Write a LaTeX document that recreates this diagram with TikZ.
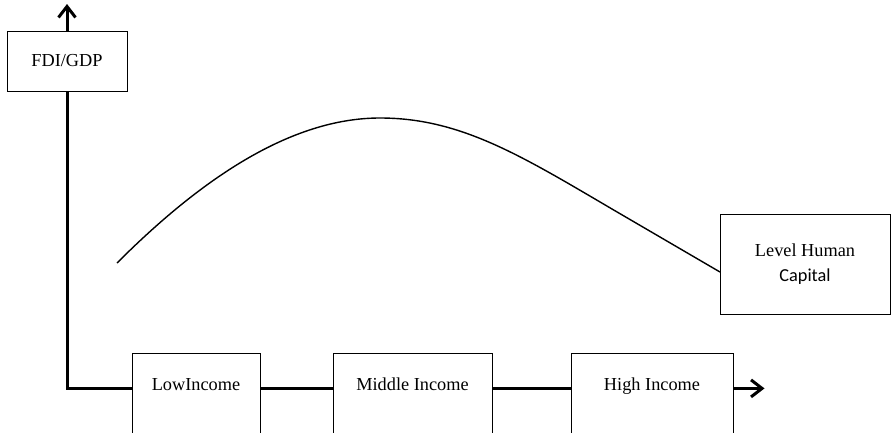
\documentclass[tikz,border=0pt]{standalone}
\usepackage{fontspec}
\setmainfont{Liberation Serif}
\newfontfamily\calfont{Carlito}
\usetikzlibrary{arrows.meta}

\tikzset{
  axisline/.style={line width=3pt},
  axisarrow/.style={line width=3pt, -{Straight Barb[length=11pt,width=17pt]}},
  incomebox/.style={draw, line width=1pt, rectangle, fill=white, anchor=north, inner sep=0pt,
    text height=37.2pt, text depth=60pt},
  labelbox/.style={draw, line width=1pt, rectangle, fill=white, align=center}
}

\begin{document}
\begin{tikzpicture}[x=1pt, y=-1pt, font=\fontsize{18.3}{25}\selectfont]
    \useasboundingbox (0,0) rectangle (892,432);

    % Vertical axis label
    \node[labelbox, minimum width=120pt, minimum height=60pt] (fdi) at (67,61) {FDI/GDP};
    \coordinate (ytip) at (67,4);

    % Income stages on the horizontal axis
    \node[incomebox, minimum width=128pt] (low) at (196,353) {LowIncome};
    \node[incomebox, minimum width=159pt] (mid) at (412.5,353) {Middle Income};
    \node[incomebox, minimum width=162pt] (high) at (652,353) {High Income};
    \coordinate (xtip) at ([xshift=31pt]high.mid east);

    % Human capital box
    \node[labelbox, minimum width=170pt, minimum height=100pt] (level) at (805,264)
        {Level Human\\{\calfont Capital}};
    \coordinate (hcend) at (720,272);

    % Axes
    \draw[axisline, line join=miter] (fdi.south) |- (low.mid west);
    \draw[axisarrow] (fdi.north) -- (ytip);
    \draw[axisline] (low.mid east) -- (mid.mid west);
    \draw[axisline] (mid.mid east) -- (high.mid west);
    \draw[axisarrow] (high.mid east) -- (xtip);

    % Inverted U curve
    \draw[line width=1.4pt] (117,263) .. controls (200,180) and (290,118) .. (380,118)
        .. controls (460,118) and (520,155) .. (612,209) -- (hcend);

\end{tikzpicture}
\end{document}
